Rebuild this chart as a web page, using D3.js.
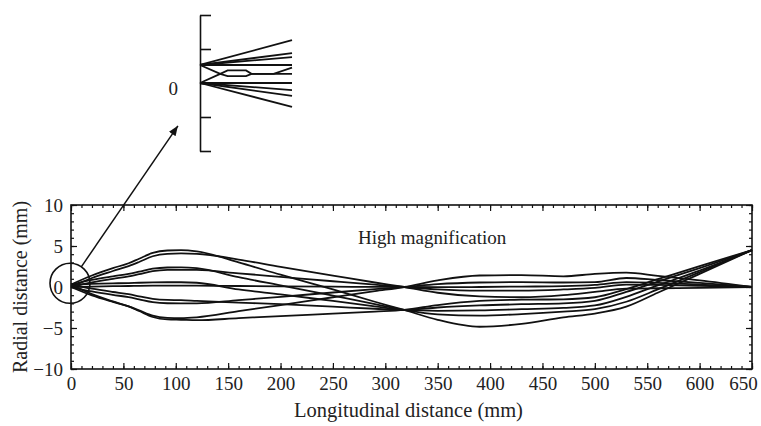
<!DOCTYPE html>
<html lang="en">
<head>
<meta charset="UTF-8">
<title>High magnification</title>
<script src="https://d3js.org/d3.v7.min.js"></script>
<style>
  body { margin: 0; padding: 0; background: #fff; }
  svg text { font-family: "Liberation Serif", "DejaVu Serif", serif; fill: #222; }
  .tick line { stroke: #111; }
  .ray { fill: none; stroke: #111; stroke-width: 1.8px; }
</style>
</head>
<body>
<svg id="chart" width="761" height="426"></svg>
<script>
// longitudinal positions (mm) where every ray is sampled
const xs = [0, 20, 40, 55, 65, 78, 92, 105, 120, 160, 200, 250, 290, 318, 350, 390, 430, 470, 500, 530, 560, 600, 650];

// rays from the on-axis object point (end on the axis)
const rayA1 = [0, 1.1, 1.95, 2.55, 3.05, 3.75, 4.05, 4.1, 4.05, 3.35, 2.45, 1.4, 0.55, 0, -0.7, -1.15, -1.25, -1.0, -0.6, -0.2, -0.15, -0.1, 0];
const rayA2 = [0, 0.57, 1.0, 1.3, 1.57, 1.93, 2.08, 2.1, 2.08, 1.67, 1.24, 0.7, 0.28, 0, -0.3, -0.45, -0.45, -0.3, -0.1, 0.3, 0.25, 0.15, 0];
const rayA3 = [0, 0.05, 0.1, 0.12, 0.14, 0.16, 0.17, 0.17, 0.17, 0.12, 0.08, 0.04, 0.01, 0, -0.02, 0, 0.05, 0.1, 0.25, 0.6, 0.5, 0.3, 0];
const rayA4 = [0, -0.54, -0.96, -1.24, -1.5, -1.84, -1.98, -2.0, -2.0, -1.6, -1.2, -0.67, -0.27, 0, 0.35, 0.55, 0.6, 0.55, 0.6, 1.1, 0.85, 0.5, 0];
const rayA5 = [0, -1.03, -1.82, -2.36, -2.85, -3.5, -3.76, -3.8, -3.7, -2.95, -2.2, -1.25, -0.5, 0, 0.8, 1.4, 1.45, 1.3, 1.6, 1.75, 1.35, 0.8, 0];

// rays from the off-axis object point (end at +4.5 mm)
const rayB1 = [0.3, 1.4, 2.3, 2.9, 3.45, 4.15, 4.45, 4.5, 4.35, 3.0, 1.5, -0.3, -1.8, -2.8, -4.0, -4.85, -4.5, -3.7, -3.25, -2.4, -0.7, 1.6, 4.5];
const rayB2 = [0.3, 0.87, 1.3, 1.6, 1.87, 2.23, 2.38, 2.4, 2.3, 1.2, 0.2, -1.05, -2.1, -2.8, -3.35, -3.5, -3.3, -3.0, -2.7, -1.8, -0.3, 1.8, 4.5];
const rayB3 = [0.3, 0.38, 0.45, 0.48, 0.52, 0.56, 0.58, 0.58, 0.52, -0.3, -0.9, -1.7, -2.35, -2.8, -2.9, -2.85, -2.7, -2.55, -2.25, -1.2, 0.2, 2.0, 4.5];
const rayB4 = [0.3, -0.21, -0.61, -0.88, -1.13, -1.45, -1.58, -1.6, -1.7, -1.9, -2.1, -2.4, -2.65, -2.8, -2.5, -2.25, -2.1, -2.0, -1.7, -0.6, 0.65, 2.3, 4.5];
const rayB5 = [0.3, -0.86, -1.76, -2.37, -2.93, -3.66, -3.96, -4.0, -4.05, -3.8, -3.55, -3.25, -3.0, -2.8, -2.2, -1.7, -1.55, -1.5, -1.25, -0.25, 0.95, 2.55, 4.5];

const rays = [rayA1, rayA2, rayA3, rayA4, rayA5, rayB1, rayB2, rayB3, rayB4, rayB5];

const xMajor = [0, 50, 100, 150, 200, 250, 300, 350, 400, 450, 500, 550, 600, 650];
const yMajor = [-10, -5, 0, 5, 10];

// inset: close-up of the two object points, [x, y] in inset units
const insetRays = [
  [[0, 0.53], [10, 1.26]],
  [[0, 0.53], [10, 0.88]],
  [[0, 0.53], [10, 0.76]],
  [[0, 0.53], [10, 0.53]],
  [[0, 0.53], [2.2, 0.27], [3, 0.2], [5, 0.2], [5.6, 0.27], [10, 0.27]],
  [[0, 0], [2.2, 0.27], [3, 0.37], [5, 0.37], [5.6, 0.27], [8, 0.27], [10, 0.45]],
  [[0, 0], [10, 0]],
  [[0, 0], [10, -0.21]],
  [[0, 0], [10, -0.38]],
  [[0, 0], [10, -0.7]]
];
const insetTicks = [-2, -1, 0, 1, 2];

const svg = d3.select("#chart");
const x = d3.scaleLinear().domain([0, 650]).range([71, 752]);
const y = d3.scaleLinear().domain([-10, 10]).range([369, 205]);

// ticks on all four sides, pointing inward
function ticks(axis, tr, vals, size, labels) {
  const g = svg.append("g").attr("transform", tr)
    .call(axis.tickValues(vals).tickSize(-size).tickSizeOuter(0).tickPadding(8)
      .tickFormat(labels ? d3.format("") : ""));
  g.select(".domain").remove();
  g.selectAll("text").style("font-size", "19px").attr("fill", "#222");
  g.selectAll(".tick line").attr("stroke-width", 1.2);
  return g;
}
const xMinor = d3.range(0, 651, 10);
const yMinor = d3.range(-10, 10.01, 1);
ticks(d3.axisBottom(x), `translate(0,${y(-10)})`, xMinor, 3, false);
const xl = ticks(d3.axisBottom(x), `translate(0,${y(-10)})`, xMajor, 6, true);
xl.selectAll("text").filter(d => d === 650).attr("dx", -9);
ticks(d3.axisTop(x), `translate(0,${y(10)})`, xMinor, 3, false);
ticks(d3.axisTop(x), `translate(0,${y(10)})`, xMajor, 6, false);
ticks(d3.axisLeft(y), `translate(${x(0)},0)`, yMinor, 3, false);
const yl = ticks(d3.axisLeft(y), `translate(${x(0)},0)`, yMajor, 6, true);
yl.selectAll("text").attr("x", -8);
ticks(d3.axisRight(y), `translate(${x(650)},0)`, yMinor, 3, false);
ticks(d3.axisRight(y), `translate(${x(650)},0)`, yMajor, 6, false);

svg.append("rect")
  .attr("x", x(0)).attr("y", y(10))
  .attr("width", x(650) - x(0)).attr("height", y(-10) - y(10))
  .attr("fill", "none").attr("stroke", "#111").attr("stroke-width", 1.6);

const line = d3.line()
  .x((d, i) => x(xs[i]))
  .y(d => y(d))
  .curve(d3.curveMonotoneX);

svg.append("g").selectAll("path")
  .data(rays)
  .enter().append("path")
  .attr("class", "ray")
  .attr("d", line);

svg.append("text")
  .attr("x", x(274)).attr("y", y(6))
  .attr("dominant-baseline", "central")
  .style("font-size", "19px")
  .text("High magnification");

svg.append("text")
  .attr("x", (x(0) + x(650)) / 2 - 3).attr("y", 417)
  .attr("text-anchor", "middle")
  .style("font-size", "20.5px")
  .text("Longitudinal distance (mm)");

svg.append("text")
  .attr("transform", `translate(27,${(y(10) + y(-10)) / 2}) rotate(-90)`)
  .attr("text-anchor", "middle")
  .style("font-size", "20px")
  .text("Radial distance (mm)");

// inset
const ix = d3.scaleLinear().domain([0, 10]).range([200, 292]);
const iy = d3.scaleLinear().domain([-2, 2]).range([151, 15]);

const ig = svg.append("g").attr("transform", `translate(${ix(0)},0)`)
  .call(d3.axisRight(iy).tickValues(insetTicks).tickSize(11).tickSizeOuter(0).tickFormat(""));
ig.select(".domain").attr("stroke", "#111").attr("stroke-width", 1.6);
ig.selectAll(".tick line").attr("stroke-width", 1.6);

svg.append("text")
  .attr("x", ix(0) - 22).attr("y", iy(-0.15))
  .attr("text-anchor", "end")
  .attr("dominant-baseline", "central")
  .style("font-size", "19px")
  .text("0");

const iline = d3.line().x(d => ix(d[0])).y(d => iy(d[1]));
svg.append("g").selectAll("path")
  .data(insetRays)
  .enter().append("path")
  .attr("class", "ray")
  .attr("d", iline);

// magnifier circle and arrow to the inset
const cx = x(0) - 1, cy = y(0.45), cr = 20;
svg.append("circle")
  .attr("cx", cx).attr("cy", cy).attr("r", cr)
  .attr("fill", "none").attr("stroke", "#111").attr("stroke-width", 1.6);

const tipX = ix(-2.4), tipY = iy(-1.26);
const ang = Math.atan2(tipY - cy, tipX - cx);
const tailX = cx + cr * Math.cos(ang), tailY = cy + cr * Math.sin(ang);

svg.append("defs").append("marker")
  .attr("id", "arrow")
  .attr("viewBox", "0 0 10 10")
  .attr("refX", 10).attr("refY", 5)
  .attr("markerWidth", 10).attr("markerHeight", 10)
  .attr("markerUnits", "userSpaceOnUse")
  .attr("orient", "auto")
  .append("path")
  .attr("d", "M0,1 L10,5 L0,9 Z")
  .attr("fill", "#111");

svg.append("line")
  .attr("x1", tailX).attr("y1", tailY)
  .attr("x2", tipX).attr("y2", tipY)
  .attr("stroke", "#111").attr("stroke-width", 1.5)
  .attr("marker-end", "url(#arrow)");
</script>
</body>
</html>
